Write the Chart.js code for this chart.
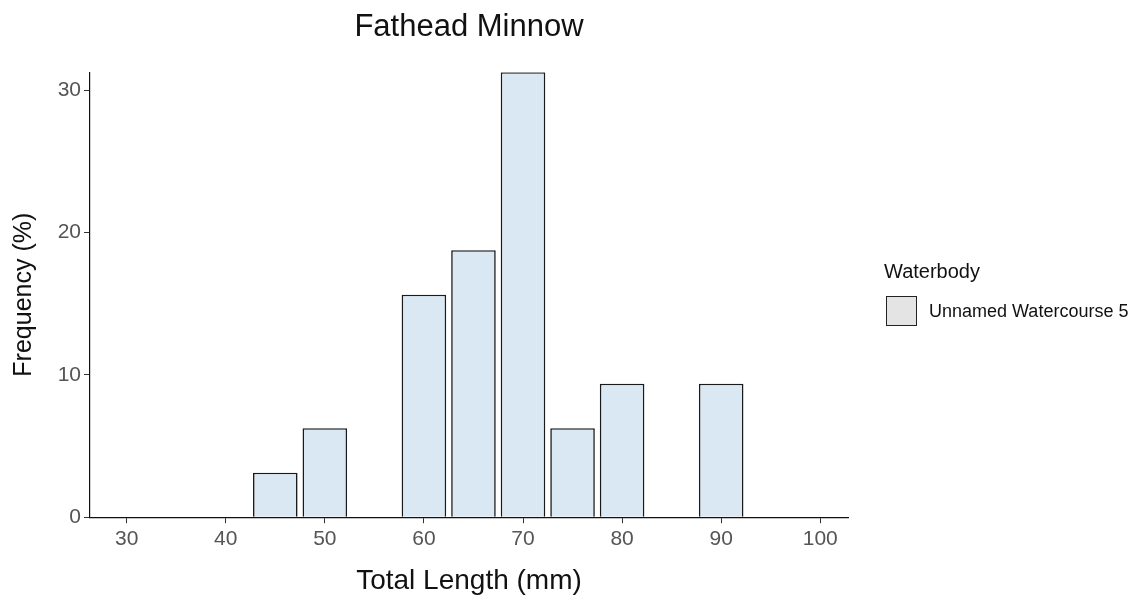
<!DOCTYPE html>
<html>
<head>
<meta charset="utf-8">
<script src="https://cdn.jsdelivr.net/npm/chart.js@4"></script>
<style>
  body { margin: 0; background: #fff; }
  #wrap { position: relative; width: 1140px; height: 604px; }
  #legend { position: absolute; left: 884px; top: 260px; font-family: "Liberation Sans", Arial, sans-serif; color: #111; }
  #legend .ttl { font-size: 20px; margin-bottom: 13px; }
  #legend .item { display: flex; align-items: center; font-size: 18px; }
  #legend .box { width: 29px; height: 28px; border: 1.5px solid #222; background: #e4e4e4; margin: 0 12px 0 2px; }
</style>
</head>
<body>
<div id="wrap">
  <canvas id="myChart" width="1140" height="604"></canvas>
  <div id="legend">
    <div class="ttl">Waterbody</div>
    <div class="item"><div class="box"></div><span id="seriesName"></span></div>
  </div>
</div>
<script>
const ctx = document.getElementById("myChart").getContext("2d");

// length classes (mm) and frequency (%)
const lengths = [45, 50, 60, 65, 70, 75, 80, 90];
const freq = [3.125, 6.25, 15.625, 18.75, 31.25, 6.25, 9.375, 9.375];
const xTicks = [30, 40, 50, 60, 70, 80, 90, 100];
const yTicks = [0, 10, 20, 30];
const seriesName = "Unnamed Watercourse 5";

document.getElementById("seriesName").textContent = seriesName;

const font = "'Liberation Sans', Arial, sans-serif";

let chart = new Chart(ctx, {
  type: "bar",
  data: {
    datasets: [
      {
        label: seriesName,
        data: lengths.map((l, i) => ({ x: l, y: freq[i] })),
        backgroundColor: "rgb(218,232,243)",
        borderColor: "#1a1a1a",
        borderWidth: 1.6,
        barPercentage: 0.9,
        categoryPercentage: 1,
      },
    ],
  },
  options: {
    responsive: false,
    animation: false,
    layout: { padding: { left: 0, right: 292, top: 0, bottom: 0 } },
    plugins: {
      legend: { display: false },
      tooltip: { enabled: false },
      title: {
        display: true,
        text: "Fathead Minnow",
        fullSize: false,
        color: "#111",
        font: { family: font, size: 31, weight: "normal" },
        padding: { top: 9, bottom: 26 },
      },
    },
    scales: {
      x: {
        type: "linear",
        offset: false,
        min: 26.3,
        max: 102.8,
        afterBuildTicks: (s) => { s.ticks = xTicks.map((v) => ({ value: v })); },
        ticks: { color: "#555", font: { family: font, size: 21 }, padding: 3 },
        grid: { offset: false, drawOnChartArea: false, color: "#333", tickLength: 6 },
        border: { color: "#111", width: 1.2 },
        title: {
          display: true,
          text: "Total Length (mm)",
          color: "#111",
          font: { family: font, size: 28 },
          padding: { top: 10, bottom: 6 },
        },
      },
      y: {
        min: 0,
        max: 31.25,
        afterBuildTicks: (s) => { s.ticks = yTicks.map((v) => ({ value: v })); },
        afterFit: (s) => { s.width = 90; },
        ticks: { color: "#555", font: { family: font, size: 21 }, padding: 3 },
        grid: { drawOnChartArea: false, color: "#333", tickLength: 6 },
        border: { color: "#111", width: 1.2 },
        title: {
          display: true,
          text: "Frequency (%)",
          color: "#111",
          font: { family: font, size: 25 },
          padding: { top: 9, bottom: 4 },
        },
      },
    },
  },
});
</script>
</body>
</html>
